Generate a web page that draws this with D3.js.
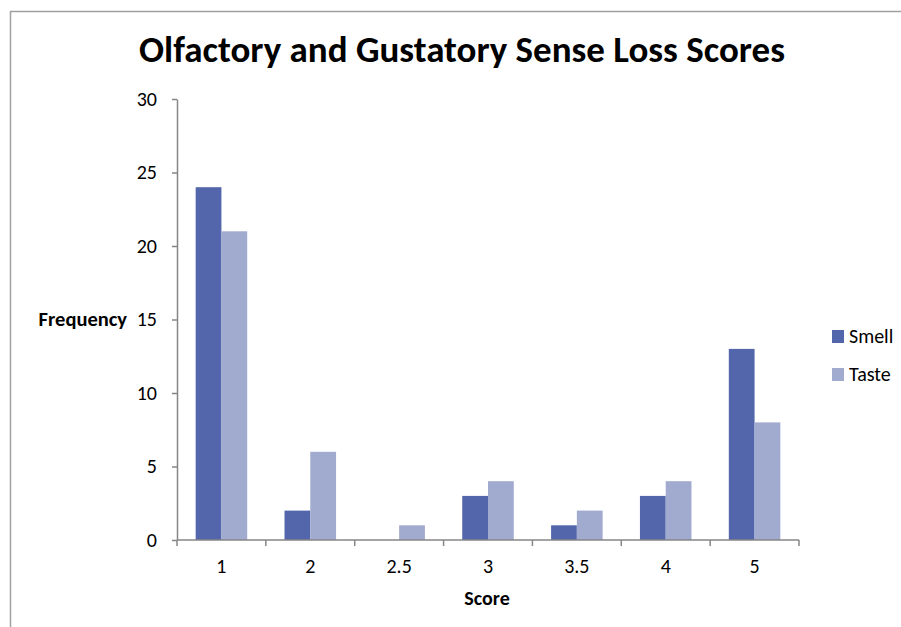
<!DOCTYPE html>
<html>
<head>
<meta charset="utf-8">
<script src="https://cdn.jsdelivr.net/npm/d3@7"></script>
<style>
  body { margin: 0; background: #fff; overflow: hidden; }
  svg { font-family: Carlito, "Open Sans", "Liberation Sans", sans-serif; }
</style>
</head>
<body>
<div id="chart"></div>
<script>
// data
var scores = ["1", "2", "2.5", "3", "3.5", "4", "5"];
var smell = [24, 2, 0, 3, 1, 3, 13];
var taste = [21, 6, 1, 4, 2, 4, 8];
var seriesNames = ["Smell", "Taste"];
var yTicks = [0, 5, 10, 15, 20, 25, 30];

var svgWidth = 901;
var svgHeight = 627;

// plot area
var margin = { top: 99, left: 177, right: 102, bottom: 87 };
var width = svgWidth - margin.left - margin.right;
var height = svgHeight - margin.top - margin.bottom;

var colors = ["#5366ab", "#a1aacf"];

var svg = d3.select("#chart")
    .append("svg")
    .attr("width", svgWidth)
    .attr("height", svgHeight);

// outer chart border (runs off the right and bottom edges)
svg.append("rect")
    .attr("x", 10.5)
    .attr("y", 11.5)
    .attr("width", 1000)
    .attr("height", 1000)
    .attr("fill", "none")
    .attr("stroke", "#a0a0a0")
    .attr("stroke-width", 1.5);

svg.append("text")
    .attr("x", 462)
    .attr("y", 62)
    .attr("text-anchor", "middle")
    .attr("font-size", 37)
    .attr("font-weight", "bold")
    .attr("fill", "#000")
    .text("Olfactory and Gustatory Sense Loss Scores");

var g = svg.append("g")
    .attr("transform", `translate(${margin.left}, ${margin.top})`);

var x0 = d3.scaleBand().domain(scores).range([0, width]).paddingInner(0.42).paddingOuter(0.21);
var x1 = d3.scaleBand().domain(seriesNames).range([0, x0.bandwidth()]);
var y = d3.scaleLinear().domain([0, 30]).range([height, 0]);

var rows = scores.map(function(s, i) {
    return { score: s, values: [smell[i], taste[i]] };
});

var groups = g.selectAll(".grp")
    .data(rows)
    .enter().append("g")
    .attr("transform", d => `translate(${x0(d.score)}, 0)`);

groups.selectAll("rect")
    .data(d => d.values.map((v, k) => ({ name: seriesNames[k], value: v, k: k })))
    .enter().append("rect")
    .filter(d => d.value > 0)
    .attr("x", d => x1(d.name))
    .attr("y", d => y(d.value))
    .attr("width", x1.bandwidth())
    .attr("height", d => y(0) - y(d.value))
    .attr("fill", d => colors[d.k]);

// y axis
var leftAxis = d3.axisLeft(y).tickValues(yTicks).tickSize(5).tickSizeOuter(0).tickPadding(15);
var ya = g.append("g").call(leftAxis);
ya.select(".domain").attr("stroke", "#868686").attr("stroke-width", 1.5);
ya.selectAll(".tick line").attr("stroke", "#868686").attr("stroke-width", 1.5);
ya.selectAll(".tick text").attr("font-size", 20).attr("fill", "#000")
    .attr("font-family", "Carlito, 'Open Sans', sans-serif");

// x axis: ticks between categories
var bounds = d3.range(scores.length + 1).map(i => i * width / scores.length);
var xa = g.append("g").attr("transform", `translate(0, ${height})`);
xa.append("line")
    .attr("x1", 0).attr("x2", width)
    .attr("stroke", "#868686").attr("stroke-width", 1.5);
xa.selectAll(".tk")
    .data(bounds)
    .enter().append("line")
    .attr("x1", d => d).attr("x2", d => d)
    .attr("y1", 0).attr("y2", 6)
    .attr("stroke", "#868686").attr("stroke-width", 1.5);
xa.selectAll(".lbl")
    .data(scores)
    .enter().append("text")
    .attr("x", d => x0(d) + x0.bandwidth() / 2)
    .attr("y", 33)
    .attr("text-anchor", "middle")
    .attr("font-size", 20)
    .attr("fill", "#000")
    .text(d => d);

svg.append("text")
    .attr("x", 487)
    .attr("y", 605)
    .attr("text-anchor", "middle")
    .attr("font-size", 20)
    .attr("font-weight", "bold")
    .text("Score");

svg.append("text")
    .attr("x", 127)
    .attr("y", 326)
    .attr("text-anchor", "end")
    .attr("font-size", 20.5)
    .attr("font-weight", "bold")
    .text("Frequency");

// legend
var legend = svg.selectAll(".leg")
    .data(seriesNames)
    .enter().append("g")
    .attr("transform", (d, i) => `translate(832, ${330 + i * 38})`);
legend.append("rect")
    .attr("width", 12).attr("height", 13)
    .attr("fill", (d, i) => colors[i]);
legend.append("text")
    .attr("x", 17)
    .attr("y", 13)
    .attr("font-size", 20)
    .text(d => d);
</script>
</body>
</html>
